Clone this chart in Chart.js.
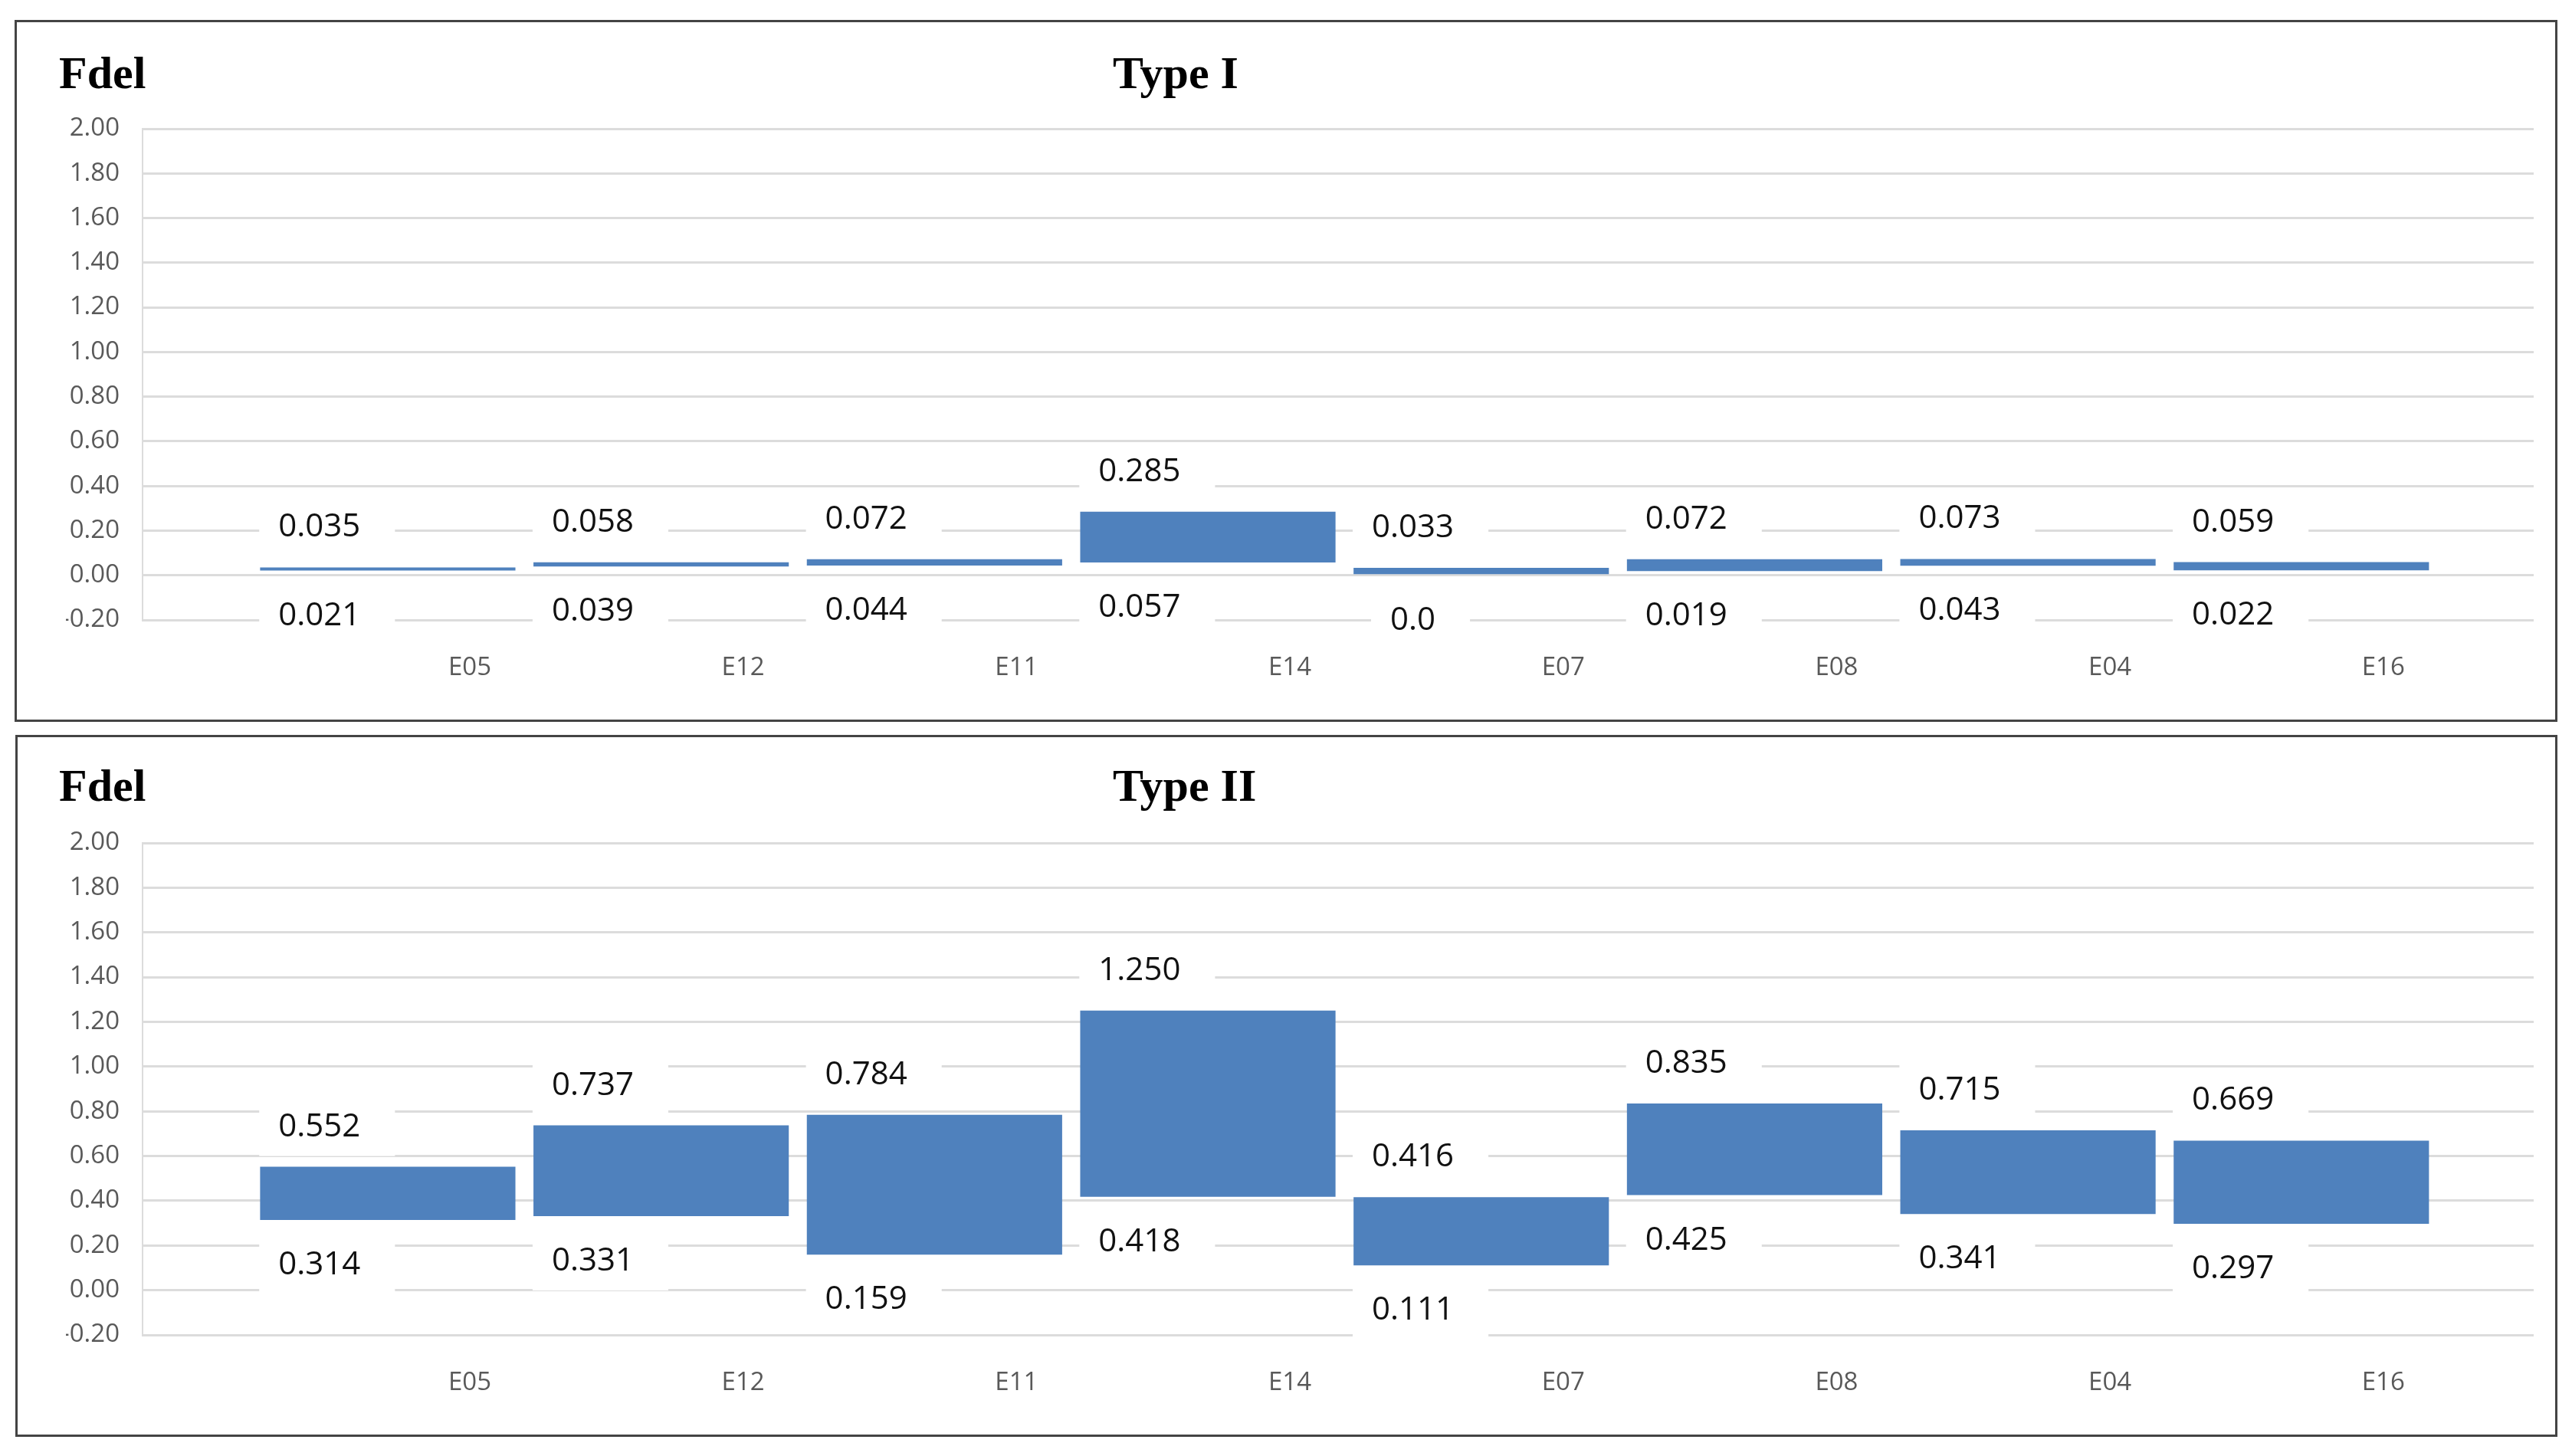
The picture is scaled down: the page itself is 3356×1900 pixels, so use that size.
<!DOCTYPE html>
<html>
<head>
<meta charset="utf-8">
<script src="https://cdn.jsdelivr.net/npm/chart.js@4.4.1/dist/chart.umd.min.js"></script>
<style>
  html, body { margin: 0; padding: 0; background: #ffffff; }
  body { width: 3356px; height: 1900px; position: relative; overflow: hidden; }
  canvas { position: absolute; left: 0; }
  #c1 { top: 0; }
  #c2 { top: 950px; }
  .panel { position: absolute; border: 3px solid #444444; box-sizing: border-box; pointer-events: none; }
</style>
</head>
<body>
<canvas id="c1" width="3356" height="950"></canvas>
<canvas id="c2" width="3356" height="950"></canvas>
<div class="panel" style="left:19px;top:26px;width:3318px;height:916px"></div>
<div class="panel" style="left:20px;top:959px;width:3317px;height:916px"></div>
<script>
// ---- data ----
const categories = ['E05', 'E12', 'E11', 'E14', 'E07', 'E08', 'E04', 'E16'];
const typeILow   = [0.021, 0.039, 0.044, 0.057, 0.0, 0.019, 0.043, 0.022];
const typeIHigh  = [0.035, 0.058, 0.072, 0.285, 0.033, 0.072, 0.073, 0.059];
const typeIILow  = [0.314, 0.331, 0.159, 0.418, 0.111, 0.425, 0.341, 0.297];
const typeIIHigh = [0.552, 0.737, 0.784, 1.250, 0.416, 0.835, 0.715, 0.669];
const yTicks = [-0.2, 0.0, 0.2, 0.4, 0.6, 0.8, 1.0, 1.2, 1.4, 1.6, 1.8, 2.0];
const yAxisTitle = 'Fdel';
const panelTitles = ['Type I', 'Type II'];

function fmtValue(v) { return v === 0 ? '0.0' : v.toFixed(3); }

const rangeLabelPlugin = {
  id: 'rangeLabels',
  afterDatasetsDraw(chart) {
    const { ctx, scales: { x, y } } = chart;
    const ds = chart.data.datasets[0];
    ctx.save();
    ctx.font = '42px "Open Sans"';
    ctx.textAlign = 'center';
    ctx.textBaseline = 'middle';
    ds.data.forEach((d) => {
      const cx = x.getPixelForValue(d.x - 0.25);
      [[d.y[1], -52], [d.y[0], 59]].forEach(([v, off]) => {
        const cy = y.getPixelForValue(v) + off;
        const t = fmtValue(v);
        const w = ctx.measureText(t).width;
        ctx.fillStyle = '#ffffff';
        ctx.fillRect(cx - w / 2 - 25, cy - 38, w + 70, 76);
        ctx.fillStyle = '#111111';
        ctx.fillText(t, cx, cy);
      });
    });
    ctx.restore();
  }
};

const headerPlugin = {
  id: 'header',
  afterDraw(chart, args, opts) {
    const ctx = chart.ctx;
    ctx.save();
    ctx.font = 'bold 60px "Liberation Serif"';
    ctx.fillStyle = '#000000';
    ctx.textAlign = 'left';
    ctx.textBaseline = 'alphabetic';
    ctx.fillText(yAxisTitle, opts.fdelX, opts.baseline);
    ctx.fillText(opts.title, opts.titleX, opts.baseline);
    ctx.restore();
  }
};

function makeChart(id, low, high, title, padTop, padBottom, fdelX, baseline) {
  return new Chart(document.getElementById(id), {
    type: 'bar',
    data: {
      datasets: [{
        data: categories.map((c, i) => ({ x: i, y: [low[i], high[i]] })),
        backgroundColor: '#4f81bd',
        borderWidth: 0,
        barPercentage: 0.934,
        categoryPercentage: 1.0
      }]
    },
    options: {
      responsive: false,
      animation: false,
      devicePixelRatio: 1,
      layout: { padding: { left: 86, right: 50, top: padTop, bottom: padBottom } },
      plugins: {
        legend: { display: false },
        tooltip: { enabled: false },
        title: { display: false },
        header: { title: title, fdelX: fdelX, titleX: 1452, baseline: baseline }
      },
      scales: {
        x: {
          type: 'linear',
          offset: false,
          min: -0.897,
          max: 7.85,
          grid: { display: false },
          border: { display: false },
          afterBuildTicks: (s) => { s.ticks = categories.map((c, i) => ({ value: i + 0.3 })); },
          afterFit: (s) => { s.height = 100; },
          ticks: {
            autoSkip: false,
            maxRotation: 0,
            padding: 35,
            color: '#595959',
            font: { family: 'Open Sans', size: 33 },
            callback: (v, i) => categories[i]
          }
        },
        y: {
          min: -0.2,
          max: 2.0,
          afterBuildTicks: (s) => { s.ticks = yTicks.map(v => ({ value: v })); },
          afterFit: (s) => { s.width = 100; },
          grid: { color: '#dcdcdc', lineWidth: 3, drawTicks: false },
          border: { display: true, color: '#dcdcdc', width: 2 },
          ticks: {
            padding: 30,
            color: '#595959',
            font: { family: 'Open Sans', size: 33 },
            callback: (v) => Number(v).toFixed(2)
          }
        }
      }
    },
    plugins: [rangeLabelPlugin, headerPlugin]
  });
}

makeChart('c1', typeILow, typeIHigh, panelTitles[0], 168, 41, 77, 115);
makeChart('c2', typeIILow, typeIIHigh, panelTitles[1], 150, 58, 77, 95);
</script>
</body>
</html>
